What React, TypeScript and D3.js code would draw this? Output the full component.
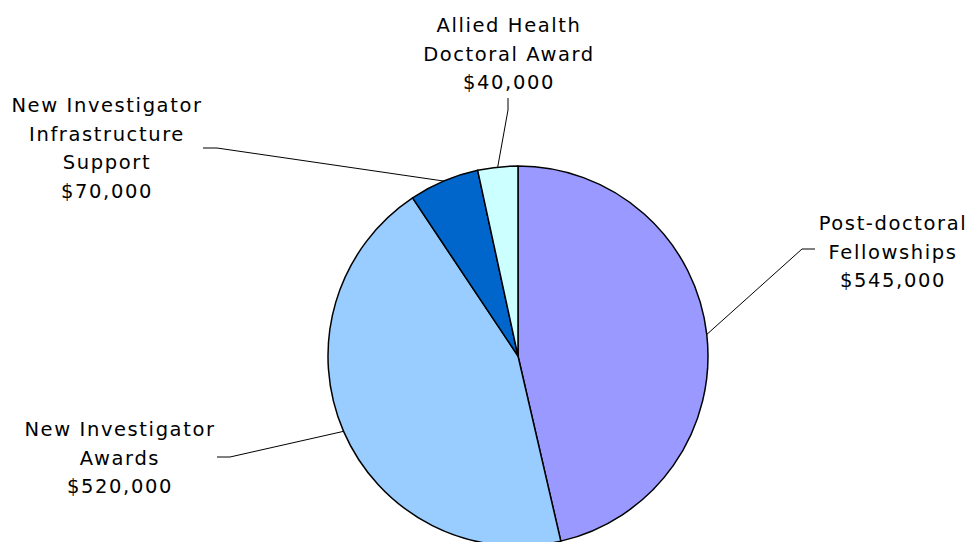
import React from "react";
import * as d3 from "d3";

const categories = [
  "Post-doctoral Fellowships",
  "New Investigator Awards",
  "New Investigator Infrastructure Support",
  "Allied Health Doctoral Award",
];
const amounts = [545000, 520000, 70000, 40000];
const labelLines = [
  ["Post-doctoral", "Fellowships"],
  ["New Investigator", "Awards"],
  ["New Investigator", "Infrastructure", "Support"],
  ["Allied Health", "Doctoral Award"],
];
const colors = ["#9999FF", "#99CCFF", "#0066CC", "#CCFFFF"];

// layout (label anchor, elbow and tail of leader line)
const labelLayout = [
  { x: 893, y: 230, elbow: [802, 249], tail: [815, 249] },
  { x: 120, y: 436, elbow: [230, 457], tail: [217, 457] },
  { x: 107, y: 112, elbow: [217, 148], tail: [203, 148] },
  { x: 509, y: 32, elbow: [508, 110], tail: [508, 98] },
];

const W = 972;
const H = 542;
const cx = 518;
const cy = 356;
const R = 190;

export default function App() {
  const pie = d3
    .pie<number>()
    .sort(null)
    .value((d) => d);
  const arcs = pie(amounts);
  const arc = d3.arc<d3.PieArcDatum<number>>().innerRadius(0).outerRadius(R);
  const fmt = d3.format("$,");
  const fontStyle = {
    fontFamily: "Verdana, 'DejaVu Sans', sans-serif",
    fontSize: 19.5,
    letterSpacing: 1.6,
  };
  return (
    <svg
      width={W}
      height={H}
      style={{ position: "absolute", left: 0, top: 0, background: "#fff" }}
    >
      <g transform={`translate(${cx},${cy})`}>
        {arcs.map((a, i) => (
          <path
            key={categories[i]}
            d={arc(a) || ""}
            fill={colors[i]}
            stroke="#000"
            strokeWidth={1.5}
            strokeLinejoin="round"
          />
        ))}
      </g>
      {arcs.map((a, i) => {
        const mid = (a.startAngle + a.endAngle) / 2;
        const px = cx + R * Math.sin(mid);
        const py = cy - R * Math.cos(mid);
        const L = labelLayout[i];
        const pts = `${px},${py} ${L.elbow[0]},${L.elbow[1]} ${L.tail[0]},${L.tail[1]}`;
        return (
          <polyline
            key={"l" + i}
            points={pts}
            fill="none"
            stroke="#000"
            strokeWidth={1}
          />
        );
      })}
      {arcs.map((a, i) => {
        const L = labelLayout[i];
        const lines = [...labelLines[i], fmt(amounts[i])];
        return (
          <text
            key={"t" + i}
            x={L.x}
            y={L.y}
            textAnchor="middle"
            fill="#000"
            style={fontStyle}
          >
            {lines.map((t, j) => (
              <tspan key={j} x={L.x} y={L.y + j * 28.6}>
                {t}
              </tspan>
            ))}
          </text>
        );
      })}
    </svg>
  );
}
